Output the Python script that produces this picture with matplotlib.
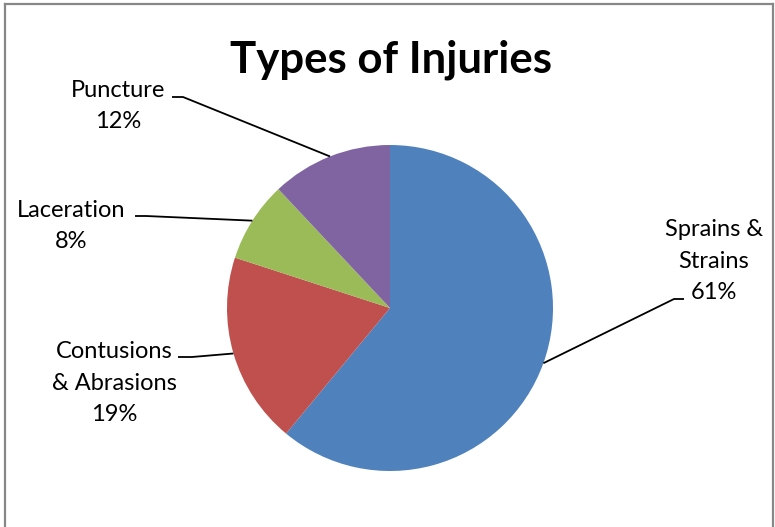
import numpy as np
import matplotlib
matplotlib.use("Agg")
import matplotlib.pyplot as plt

W, H = 775, 527

categories = ["Sprains &\nStrains", "Contusions\n& Abrasions", "Laceration", "Puncture"]
values = [61, 19, 8, 12]
colors = ["#4F81BD", "#C0504D", "#9BBB59", "#8064A2"]
title = "Types of Injuries"

# layout (pixel coordinates, y measured from top)
center_px = (390, 308)
radius_px = 163
label_pos = [(714, 261), (114, 383), (71, 226), (118, 106)]
elbow_pos = [(674, 299), (192, 357), (146, 216), (183, 97)]
end_pos = [(684, 299), (178, 357), (135, 216), (172, 97)]

plt.rcParams['font.family'] = ['Lato', 'DejaVu Sans']

fig = plt.figure(figsize=(W / 100, H / 100), dpi=100)
ax = fig.add_axes([0, 0, 1, 1])

cx, cy = center_px[0], H - center_px[1]
wedges, _ = ax.pie(values, colors=colors, startangle=90, counterclock=False,
                   center=(cx, cy), radius=radius_px, frame=True,
                   wedgeprops=dict(linewidth=0))
ax.set_xlim(0, W)
ax.set_ylim(0, H)
ax.set_aspect('equal')
ax.axis('off')

total = sum(values)
for i, (w, lab, v) in enumerate(zip(wedges, categories, values)):
    ang = np.deg2rad((w.theta1 + w.theta2) / 2)
    px = cx + radius_px * np.cos(ang)
    py = cy + radius_px * np.sin(ang)
    ex, ey = elbow_pos[i][0], H - elbow_pos[i][1]
    tx, ty = end_pos[i][0], H - end_pos[i][1]
    ax.plot([px, ex, tx], [py, ey, ty], color="black", lw=1.3, solid_capstyle='butt')
    lx, ly = label_pos[i][0], H - label_pos[i][1]
    ax.text(lx, ly, f"{lab}\n{round(100 * v / total)}%", ha="center", va="center",
            fontsize=17, linespacing=1.62, color="black")

ax.text(W / 2 + 3, H - 60, title, ha="center", va="center", fontsize=31.5,
        fontweight="bold", color="black")

# chart area border (bottom edge lies below the visible image)
bc = "#878787"
fig.add_artist(plt.Line2D([4.5 / W, 4.5 / W], [0, 1 - 3.5 / H], transform=fig.transFigure, color=bc, lw=1.6))
fig.add_artist(plt.Line2D([772.5 / W, 772.5 / W], [0, 1 - 3.5 / H], transform=fig.transFigure, color=bc, lw=1.6))
fig.add_artist(plt.Line2D([4.5 / W, 772.5 / W], [1 - 3.5 / H, 1 - 3.5 / H], transform=fig.transFigure, color=bc, lw=1.6))

fig.savefig("out.png", dpi=100)
